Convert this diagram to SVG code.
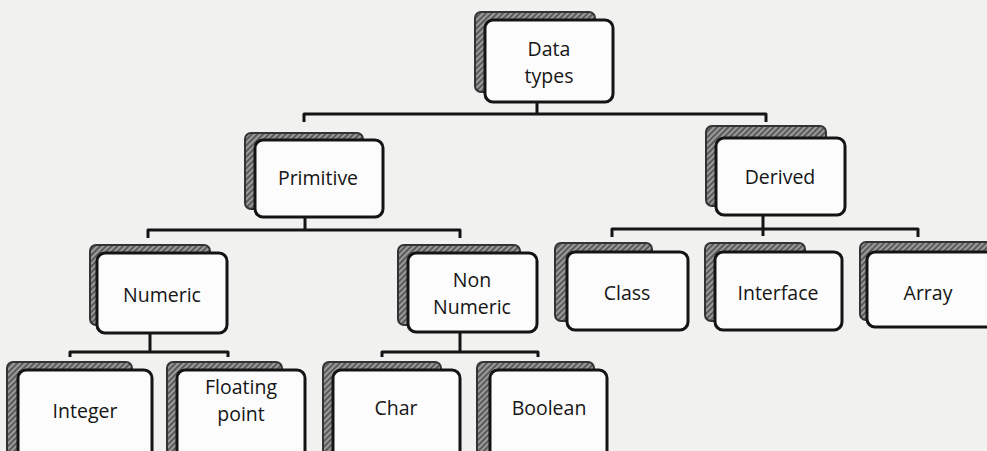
<svg xmlns="http://www.w3.org/2000/svg" width="987" height="451" viewBox="0 0 987 451">
<defs>
<pattern id="hatch" width="4" height="4" patternUnits="userSpaceOnUse" patternTransform="rotate(45)">
<rect width="4" height="4" fill="#9a9a9a"/>
<rect width="2" height="4" fill="#5a5a5a"/>
</pattern>
</defs>
<style>
.bg{fill:#f1f1f0}
.sh{fill:url(#hatch);stroke:#333;stroke-width:2}
.fr{fill:#fcfcfc;stroke:#141414;stroke-width:3}
.t{font-family:"Open Sans","Noto Sans",sans-serif;font-size:19.5px;fill:#151515;text-anchor:middle}
.c{fill:none;stroke:#141414;stroke-width:3;stroke-linejoin:round}
</style>
<rect class="bg" width="987" height="451"/>
<g id="connectors">
<path class="c" d="M537,102 V114 M304,122 V114 H766 V122"/>
<path class="c" d="M305,217 V230 M148,238 V230 H460 V238"/>
<path class="c" d="M763,215 V236 M612,237 V229 H918 V237"/>
<path class="c" d="M150,333 V352 M70,357 V352 H228 V357"/>
<path class="c" d="M460,332 V352 M382,357 V352 H538 V357"/>
</g>
<g id="n-datatypes">
<rect class="sh" x="475" y="12" width="120" height="80" rx="6"/>
<rect class="fr" x="485" y="20" width="128" height="82" rx="8"/>
<text class="t" x="549" y="56">Data</text>
<text class="t" x="549" y="83">types</text>
</g>
<g id="n-primitive">
<rect class="sh" x="245" y="133" width="118" height="76" rx="6"/>
<rect class="fr" x="255" y="140" width="128" height="77" rx="8"/>
<text class="t" x="318" y="185">Primitive</text>
</g>
<g id="n-derived">
<rect class="sh" x="706" y="126" width="120" height="80" rx="6"/>
<rect class="fr" x="716" y="138" width="129" height="77" rx="8"/>
<text class="t" x="780" y="184">Derived</text>
</g>
<g id="n-numeric">
<rect class="sh" x="90" y="245" width="120" height="80" rx="6"/>
<rect class="fr" x="97" y="253" width="130" height="80" rx="8"/>
<text class="t" x="162" y="302">Numeric</text>
</g>
<g id="n-nonnumeric">
<rect class="sh" x="398" y="245" width="122" height="80" rx="6"/>
<rect class="fr" x="408" y="253" width="129" height="79" rx="8"/>
<text class="t" x="472" y="287">Non</text>
<text class="t" x="472" y="314">Numeric</text>
</g>
<g id="n-class">
<rect class="sh" x="555" y="243" width="97" height="78" rx="6"/>
<rect class="fr" x="567" y="252" width="121" height="78" rx="8"/>
<text class="t" x="627" y="300">Class</text>
</g>
<g id="n-interface">
<rect class="sh" x="705" y="243" width="100" height="78" rx="6"/>
<rect class="fr" x="715" y="252" width="127" height="78" rx="8"/>
<text class="t" x="778" y="300">Interface</text>
</g>
<g id="n-array">
<rect class="sh" x="860" y="242" width="140" height="78" rx="6"/>
<rect class="fr" x="867" y="252" width="130" height="75" rx="8"/>
<text class="t" x="928" y="300">Array</text>
</g>
<g id="n-integer">
<rect class="sh" x="7" y="362" width="125" height="100" rx="6"/>
<rect class="fr" x="18" y="370" width="134" height="95" rx="8"/>
<text class="t" x="85" y="418">Integer</text>
</g>
<g id="n-floating">
<rect class="sh" x="167" y="362" width="115" height="100" rx="6"/>
<rect class="fr" x="177" y="370" width="128" height="95" rx="8"/>
<text class="t" x="241" y="394">Floating</text>
<text class="t" x="241" y="421">point</text>
</g>
<g id="n-char">
<rect class="sh" x="323" y="362" width="118" height="100" rx="6"/>
<rect class="fr" x="333" y="370" width="127" height="95" rx="8"/>
<text class="t" x="396" y="415">Char</text>
</g>
<g id="n-boolean">
<rect class="sh" x="477" y="362" width="117" height="100" rx="6"/>
<rect class="fr" x="490" y="370" width="117" height="95" rx="8"/>
<text class="t" x="549" y="415">Boolean</text>
</g>
</svg>
